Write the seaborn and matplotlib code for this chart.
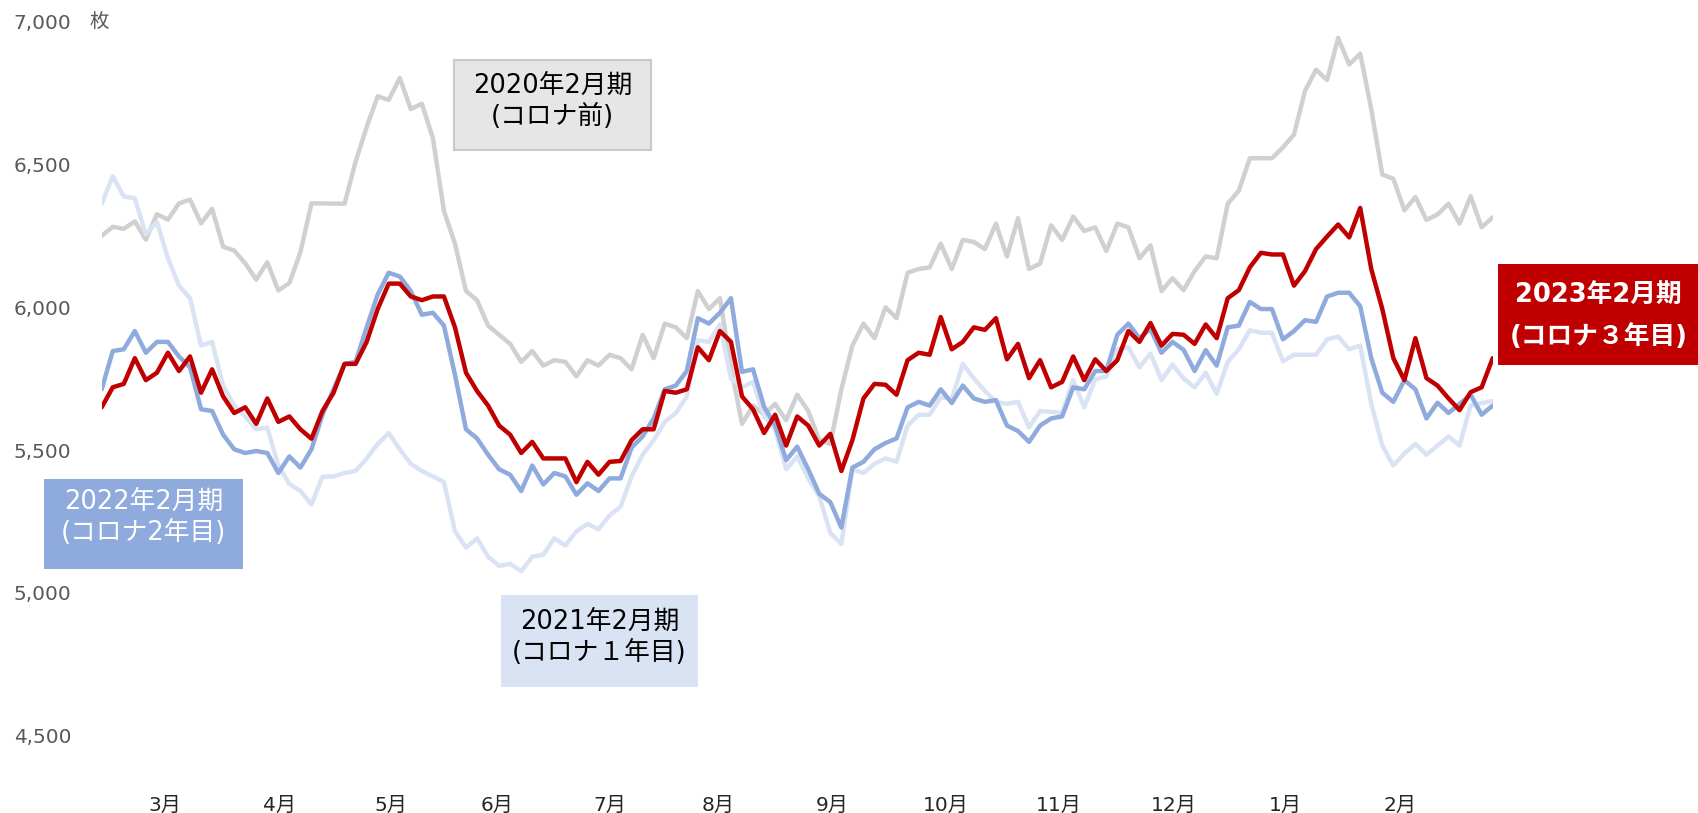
import numpy as np
import pandas as pd
import matplotlib
matplotlib.use('Agg')
import matplotlib.pyplot as plt
import seaborn as sns
from matplotlib.patches import Rectangle

# 3日おきに読み取った販売枚数 (3月〜2月)
fy2020 = [6250, 6282, 6275, 6301, 6237, 6326, 6307, 6364, 6377, 6294, 6345, 6212, 6199, 6154, 6097, 6158, 6059, 6085, 6193, 6364, 6364,
          6363, 6363, 6510, 6631, 6739, 6726, 6803, 6694, 6713, 6592, 6338, 6223, 6057, 6025, 5936, 5904, 5872, 5809, 5847, 5796, 5815,
          5809, 5758, 5815, 5796, 5834, 5822, 5783, 5904, 5822, 5943, 5930, 5892, 6057, 5994, 6032, 5790, 5592, 5656, 5624, 5662, 5605,
          5694, 5637, 5535, 5522, 5713, 5866, 5943, 5892, 6000, 5962, 6121, 6134, 6140, 6223, 6134, 6236, 6229, 6204, 6293, 6178, 6312,
          6134, 6153, 6287, 6236, 6318, 6267, 6280, 6197, 6293, 6280, 6172, 6217, 6057, 6102, 6060, 6127, 6178, 6172, 6363, 6408,
          6522, 6522, 6522, 6560, 6605, 6758, 6832, 6796, 6943, 6850, 6888, 6694, 6465, 6450, 6340, 6386, 6306, 6325, 6363, 6293, 6389, 6280, 6315]

fy2021 = [6363, 6459, 6388, 6382, 6255, 6299, 6172, 6076, 6032, 5866, 5879, 5726, 5656, 5618, 5573, 5579, 5446, 5382, 5357, 5310, 5407,
          5408, 5420, 5427, 5471, 5522, 5560, 5503, 5452, 5427, 5408, 5389, 5216, 5159, 5191, 5127, 5095, 5102, 5076, 5127, 5134, 5191,
          5166, 5216, 5242, 5223, 5271, 5302, 5408, 5484, 5535, 5599, 5630, 5688, 5885, 5879, 5940, 5751, 5720, 5739, 5618, 5573, 5433,
          5478, 5401, 5338, 5210, 5172, 5433, 5420, 5452, 5471, 5459, 5586, 5624, 5624, 5685, 5679, 5802, 5751, 5707, 5669, 5662, 5669,
          5580, 5637, 5634, 5630, 5745, 5650, 5748, 5758, 5853, 5860, 5790, 5838, 5745, 5800, 5751, 5720, 5771, 5697, 5809, 5853,
          5920, 5911, 5911, 5811, 5834, 5834, 5834, 5888, 5898, 5853, 5866, 5662, 5516, 5446, 5488, 5522, 5484, 5516, 5548, 5516, 5656, 5665, 5672]

fy2022 = [5713, 5847, 5853, 5917, 5841, 5879, 5879, 5828, 5790, 5643, 5637, 5554, 5503, 5490, 5497, 5490, 5420, 5478, 5439, 5503, 5624,
          5713, 5802, 5809, 5930, 6045, 6121, 6108, 6057, 5974, 5981, 5936, 5764, 5573, 5541, 5484, 5433, 5414, 5357, 5446, 5380, 5420,
          5408, 5344, 5384, 5357, 5401, 5401, 5509, 5548, 5611, 5713, 5726, 5777, 5962, 5943, 5981, 6032, 5774, 5783, 5652, 5586, 5465,
          5512, 5433, 5347, 5318, 5229, 5439, 5459, 5503, 5525, 5541, 5650, 5669, 5656, 5713, 5665, 5726, 5681, 5669, 5675, 5586, 5567,
          5529, 5586, 5611, 5618, 5720, 5713, 5777, 5777, 5904, 5943, 5892, 5924, 5841, 5879, 5851, 5777, 5850, 5796, 5930, 5936,
          6019, 5994, 5994, 5888, 5917, 5955, 5949, 6038, 6051, 6051, 6004, 5822, 5701, 5669, 5745, 5713, 5611, 5666, 5630, 5662, 5694, 5624, 5656]

fy2023 = [5650, 5720, 5732, 5822, 5745, 5771, 5841, 5777, 5828, 5701, 5783, 5688, 5630, 5650, 5592, 5681, 5599, 5618, 5573, 5540, 5637,
          5701, 5802, 5802, 5879, 5994, 6083, 6083, 6038, 6025, 6038, 6038, 5930, 5771, 5707, 5656, 5586, 5554, 5490, 5529, 5471, 5471,
          5471, 5388, 5459, 5414, 5459, 5462, 5535, 5573, 5573, 5707, 5701, 5713, 5860, 5815, 5917, 5879, 5688, 5643, 5560, 5624, 5516,
          5618, 5586, 5516, 5557, 5427, 5535, 5681, 5732, 5729, 5694, 5815, 5841, 5834, 5966, 5853, 5879, 5930, 5921, 5962, 5818, 5872,
          5752, 5815, 5720, 5739, 5828, 5745, 5818, 5777, 5815, 5917, 5879, 5945, 5866, 5907, 5904, 5872, 5940, 5892, 6032, 6060,
          6140, 6191, 6185, 6185, 6076, 6127, 6204, 6248, 6290, 6245, 6348, 6134, 5994, 5822, 5745, 5892, 5752, 5726, 5681, 5640, 5703, 5720, 5822]

month_labels = ['3月', '4月', '5月', '6月', '7月', '8月', '9月', '10月', '11月', '12月', '1月', '2月']
month_pos = [5.7, 16.1, 26.2, 35.8, 46.0, 55.8, 66.2, 76.5, 86.7, 97.1, 107.2, 117.6]
y_ticks = [4500, 5000, 5500, 6000, 6500, 7000]

step = np.arange(len(fy2023))

sns.set_theme(style='white')
plt.rcParams['font.family'] = ['DejaVu Sans', 'Noto Sans CJK JP']
plt.rcParams['lines.solid_joinstyle'] = 'round'

W, H = 1699, 813
fig = plt.figure(figsize=(W / 100, H / 100), dpi=100)
ax = fig.add_axes([101.7 / W, 1 - 792.9 / H, (1492.7 - 101.7) / W, (792.9 - 21.7) / H])

series = [
    (fy2020, '#d0d0d0', 3.2),
    (fy2021, '#dae3f3', 3.2),
    (fy2022, '#8faadc', 3.2),
    (fy2023, '#c00000', 3.2),
]
for vals, col, lw in series:
    sns.lineplot(x=step, y=vals, ax=ax, color=col, linewidth=lw, legend=False)

ax.set_xlim(0, len(step) - 1)
ax.set_ylim(4300, 7000)
ax.set_yticks(y_ticks)
ax.set_yticklabels([f'{v:,}' for v in y_ticks])
ax.set_xticks(month_pos)
ax.set_xticklabels(month_labels)
ax.tick_params(axis='y', length=0, pad=22, labelsize=14.4, labelcolor='#595959')
ax.tick_params(axis='x', length=0, pad=2, labelsize=14.5, labelcolor='#262626')
ax.set_xlabel('')
ax.set_ylabel('')
for s in ax.spines.values():
    s.set_visible(False)
ax.grid(False)

fig.text(89 / W, 1 - 22 / H, '枚', ha='left', va='center', fontsize=14, color='#595959')


def label_box(x0, y0, x1, y1, ty, text, fc, tc, ec=None, weight='normal', ls=1.25):
    rect = Rectangle((x0 / W, 1 - y1 / H), (x1 - x0) / W, (y1 - y0) / H,
                     transform=fig.transFigure, facecolor=fc,
                     edgecolor=ec if ec else 'none', linewidth=1.5 if ec else 0, zorder=5)
    fig.add_artist(rect)
    fig.text((x0 + x1) / 2 / W, 1 - ty / H, text, ha='center', va='center',
             color=tc, fontsize=18.5, fontweight=weight, linespacing=ls, zorder=6)


label_box(454, 60, 651, 150, 101, '2020年2月期\n(コロナ前)', '#e7e6e6', '#000000', ec='#c9c9c9')
label_box(501, 595, 698, 687, 637, '2021年2月期\n(コロナ１年目)', '#dae3f3', '#000000')
label_box(44, 479, 243, 569, 517, '2022年2月期\n(コロナ2年目)', '#8faadc', '#ffffff')
label_box(1498, 264, 1699, 365, 316, '2023年2月期\n(コロナ３年目)', '#c00000', '#ffffff', weight='bold', ls=1.75)

fig.savefig('out.png', dpi=100)
